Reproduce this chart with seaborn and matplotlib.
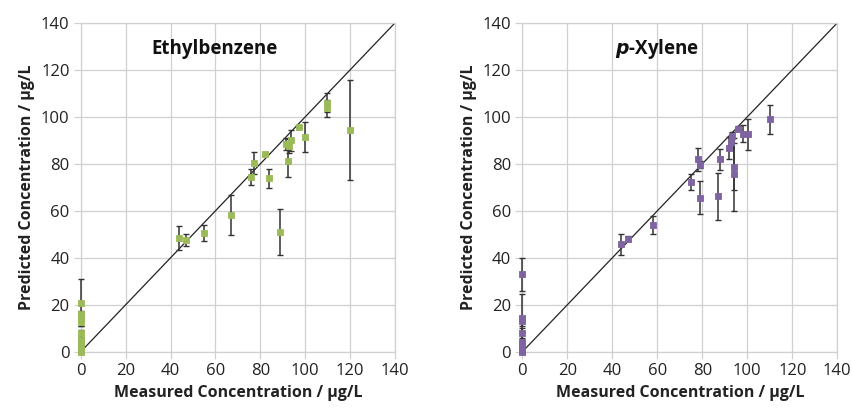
import numpy as np
import pandas as pd
import seaborn as sns
import matplotlib.pyplot as plt

# ===== DATA =====
# Ethylbenzene: measured, predicted, error (ug/L)
eb_meas = [0, 0, 0, 0, 0, 0, 0, 0, 0, 0,
           43.7, 46.8, 55, 66.8, 76, 77, 82, 83.8, 88.8, 91.5,
           92.3, 92.7, 93.8, 97.2, 100, 109.8, 109.8, 120]
eb_pred = [21, 16, 14.5, 12.5, 8, 5, 4, 2, 1, 0,
           48.5, 47.5, 50.4, 58.2, 74.2, 80.3, 84.2, 73.8, 51.1, 88.3,
           81.3, 87.5, 90.1, 95.5, 91.5, 106, 103.6, 94.3]
eb_err = [10, 1.5, 1.5, 1.5, 1.5, 1, 1, 1, 1, 1,
          5, 2.5, 3.4, 8.5, 3.4, 4.6, 0.8, 4.1, 9.8, 2.5,
          7, 3, 4.5, 0.8, 6.4, 4, 3.5, 21.3]

# p-Xylene
px_meas = [0, 0, 0, 0, 0, 0, 0, 0, 0, 0,
           44, 47.1, 58, 75, 78.2, 79, 79, 87.1, 87.9, 92,
           92.6, 93.4, 94.1, 94.1, 96, 98.2, 100.2, 110.1]
px_pred = [33, 14.5, 13, 8, 4, 3, 2, 1, 0.5, 0,
           45.7, 48.2, 54, 72.2, 81.9, 79.7, 65.5, 66.3, 81.9, 86.8,
           89.1, 92, 78.7, 75.5, 95, 92.9, 92.5, 98.9]
px_err = [7, 10, 2, 2, 1, 1, 1, 1, 1, 1,
          4.3, 1, 4, 3.4, 4.8, 1.5, 7, 10, 4.6, 4.7,
          2.5, 1.5, 10, 15.5, 1, 3.6, 6.6, 6]

ticks = [0, 20, 40, 60, 80, 100, 120, 140]

sns.set_style("white")
plt.rcParams['font.family'] = ['Open Sans', 'DejaVu Sans']

fig = plt.figure(figsize=(8.53, 4.12), dpi=100)
ax1 = fig.add_axes([0.0946, 0.146, 0.3685, 0.7985])
ax2 = fig.add_axes([0.6123, 0.146, 0.3693, 0.7985])

panels = [
    (ax1, eb_meas, eb_pred, eb_err, "#9BBB59", "Ethylbenzene"),
    (ax2, px_meas, px_pred, px_err, "#8064A2", "$\\bfit{p}$-Xylene"),
]

grid_col = "#D0D0D0"

for ax, xm, yp, er, col, title in panels:
    df = pd.DataFrame({"measured": xm, "predicted": yp})
    ax.plot([0, 140], [0, 140], color="#222222", lw=0.9, zorder=2)
    eb = ax.errorbar(xm, yp, yerr=er, fmt="none", ecolor="#333333",
                     elinewidth=1.1, capsize=2.2, capthick=1.0, zorder=3)
    for art in eb.lines[1] + eb.lines[2]:
        art.set_clip_on(False)
    sns.scatterplot(data=df, x="measured", y="predicted", ax=ax, marker="s",
                    s=24, color=col, edgecolor=col, linewidth=0.6, zorder=4,
                    clip_on=False)
    ax.set_xlim(0, 140)
    ax.set_ylim(0, 140)
    ax.set_xticks(ticks)
    ax.set_yticks(ticks)
    ax.grid(True, color=grid_col, lw=0.9)
    ax.set_axisbelow(True)
    for s in ax.spines.values():
        s.set_color(grid_col)
        s.set_linewidth(0.9)
    ax.tick_params(axis="both", which="both", length=5, width=0.9,
                   color=grid_col, labelsize=12, labelcolor="#222222",
                   direction="out", pad=3, bottom=True, left=True)
    ax.set_xlabel("Measured Concentration / µg/L", fontsize=11.5,
                  fontweight="bold", color="#222222", labelpad=4)
    ax.set_ylabel("Predicted Concentration / µg/L", fontsize=11.5,
                  fontweight="bold", color="#222222", labelpad=4)
    ax.text(0.427, 0.92, title, transform=ax.transAxes, ha="center",
            va="center", fontsize=13.5, fontweight="bold", color="#111111")

plt.savefig("out.png", dpi=100)
